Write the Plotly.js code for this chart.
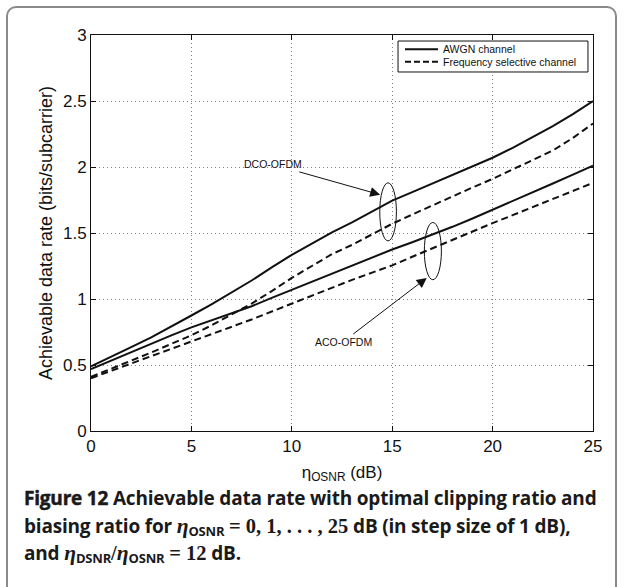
<!DOCTYPE html>
<html>
<head>
<meta charset="utf-8">
<script src="https://cdn.plot.ly/plotly-3.0.1.min.js"></script>
<style>
  html, body { margin:0; padding:0; background:#fff; }
  #wrap { position:relative; width:625px; height:587px; overflow:hidden; }
  #frame { position:absolute; left:6px; top:6px; width:611px; height:640px; border:2px solid #8a8a8a; border-radius:10px; box-sizing:border-box; }
  #chart { position:absolute; left:0; top:0; width:625px; height:587px; }
  #cap { position:absolute; left:24px; top:485px; width:598px; font-family:"Open Sans", Lato, sans-serif; font-weight:700; font-size:19px; line-height:27.5px; color:#1a1a1a; white-space:nowrap; letter-spacing:-0.2px; }
  #cap .fig { font-weight:700; -webkit-text-stroke:0.5px #1a1a1a; }
  #cap .m { font-family:"Liberation Serif", "DejaVu Serif", serif; font-weight:700; font-size:20.5px; letter-spacing:0; }
  #cap .mi { font-family:"Liberation Serif", "DejaVu Serif", serif; font-style:italic; font-weight:700; font-size:21.5px; letter-spacing:0; }
  #cap sub { font-size:13px; font-weight:700; vertical-align:-3px; line-height:0; }
</style>
</head>
<body>
<div id="wrap">
  <div id="frame"></div>
  <div id="chart"></div>
  <div id="cap"><span class="fig">Figure 12</span> Achievable data rate with optimal clipping ratio and<br>biasing ratio for <span class="mi">η</span><sub>OSNR</sub> <span class="m">= 0, 1, . . . , 25</span> dB (in step size of 1 dB),<br>and <span class="mi">η</span><sub>DSNR</sub><span class="m">/</span><span class="mi">η</span><sub>OSNR</sub> <span class="m">= 12</span> dB.</div>
</div>
<script>
// ---- data ----
const osnr = [0,1,2,3,4,5,6,7,8,9,10,11,12,13,14,15,16,17,18,19,20,21,22,23,24,25];
const dcoAwgn = [0.49,0.56,0.635,0.71,0.79,0.875,0.96,1.05,1.14,1.24,1.335,1.42,1.505,1.58,1.665,1.745,1.81,1.875,1.94,2.005,2.07,2.145,2.225,2.31,2.40,2.50];
const dcoFreq = [0.41,0.47,0.53,0.595,0.66,0.725,0.80,0.88,0.965,1.06,1.16,1.25,1.34,1.41,1.49,1.57,1.64,1.71,1.78,1.845,1.91,1.98,2.05,2.125,2.22,2.33];
const acoAwgn = [0.47,0.535,0.60,0.663,0.725,0.785,0.838,0.888,0.945,1.008,1.07,1.13,1.19,1.25,1.312,1.375,1.43,1.487,1.547,1.61,1.675,1.74,1.808,1.875,1.942,2.01];
const acoFreq = [0.40,0.455,0.51,0.565,0.62,0.675,0.73,0.79,0.845,0.905,0.965,1.03,1.09,1.145,1.20,1.255,1.32,1.385,1.445,1.51,1.575,1.635,1.695,1.755,1.815,1.88];
const xTicks = [0,5,10,15,20,25];
const yTicks = [0,0.5,1,1.5,2,2.5,3];
const yTickText = ["0","0.5","1","1.5","2","2.5","3"];
const legendNames = ["AWGN channel","Frequency selective channel"];

const solid = {color:'#111', width:2};
const dashed = {color:'#111', width:2, dash:'7px,4px'};

const traces = [
  {x:osnr, y:dcoAwgn, mode:'lines', line:solid, name:legendNames[0]},
  {x:osnr, y:dcoFreq, mode:'lines', line:dashed, name:legendNames[1]},
  {x:osnr, y:acoAwgn, mode:'lines', line:solid, name:legendNames[0]},
  {x:osnr, y:acoFreq, mode:'lines', line:dashed, name:legendNames[1]}
];

const sans = '"Liberation Sans", Arial, sans-serif';
const tickFont = {family:sans, size:17, color:'#111'};
const axisCommon = {
  showline:true, linecolor:'#111', linewidth:1, mirror:'ticks',
  ticks:'inside', ticklen:5, tickcolor:'#111', tickwidth:1,
  showgrid:true, gridcolor:'#808080', griddash:'1px,3px', gridwidth:1,
  zeroline:false, tickfont:tickFont, automargin:false
};

// legend box drawn in paper coordinates of the plot area
const lg = {x0:0.6116, x1:0.990, y0:0.9066, y1:0.9848, lx0:0.6255, lx1:0.6912, tx:0.6972, ySolid:0.9639, yDash:0.9326};

const layout = {
  width:625, height:587,
  margin:{l:91, r:32, t:35, b:156},
  paper_bgcolor:'rgba(0,0,0,0)', plot_bgcolor:'#fff',
  showlegend:false,
  xaxis:Object.assign({}, axisCommon, {range:[0,25], tickvals:xTicks, ticktext:xTicks.map(String),
    title:{text:'η<sub>OSNR</sub> (dB)', font:{family:sans, size:17, color:'#111'}, standoff:10}}),
  yaxis:Object.assign({}, axisCommon, {range:[0,3], tickvals:yTicks, ticktext:yTickText,
    title:{text:'Achievable data rate (bits/subcarrier)', font:{family:sans, size:18, color:'#111'}, standoff:5}}),
  shapes:[
    {type:'circle', xref:'x', yref:'y', x0:14.38, x1:15.21, y0:1.44, y1:1.88, line:{color:'#111', width:1}},
    {type:'circle', xref:'x', yref:'y', x0:16.6, x1:17.45, y0:1.146, y1:1.58, line:{color:'#111', width:1}},
    {type:'rect', xref:'paper', yref:'paper', x0:lg.x0, x1:lg.x1, y0:lg.y0, y1:lg.y1, fillcolor:'#fff', line:{color:'#111', width:1}, layer:'above'},
    {type:'line', xref:'paper', yref:'paper', x0:lg.lx0, x1:lg.lx1, y0:lg.ySolid, y1:lg.ySolid, line:{color:'#111', width:2}, layer:'above'},
    {type:'line', xref:'paper', yref:'paper', x0:lg.lx0, x1:lg.lx1, y0:lg.yDash, y1:lg.yDash, line:{color:'#111', width:2, dash:'6px,3px'}, layer:'above'}
  ],
  annotations:[
    {xref:'paper', yref:'paper', x:lg.tx, y:lg.ySolid, xanchor:'left', yanchor:'middle', text:legendNames[0], showarrow:false, font:{family:sans, size:10.5, color:'#111'}},
    {xref:'paper', yref:'paper', x:lg.tx, y:lg.yDash, xanchor:'left', yanchor:'middle', text:legendNames[1], showarrow:false, font:{family:sans, size:10.5, color:'#111'}},
    {x:14.4, y:1.79, xref:'x', yref:'y', ax:9.05, ay:2.02, axref:'x', ayref:'y', text:'DCO-OFDM', showarrow:true, arrowhead:2, arrowsize:2, arrowwidth:1, arrowcolor:'#111', standoff:0, font:{family:sans, size:10.5, color:'#111'}},
    {x:16.72, y:1.16, xref:'x', yref:'y', ax:12.57, ay:0.678, axref:'x', ayref:'y', text:'ACO-OFDM', showarrow:true, arrowhead:2, arrowsize:2, arrowwidth:1, arrowcolor:'#111', standoff:0, font:{family:sans, size:10.5, color:'#111'}}
  ]
};

Plotly.newPlot('chart', traces, layout, {displayModeBar:false, staticPlot:true});
</script>
</body>
</html>
